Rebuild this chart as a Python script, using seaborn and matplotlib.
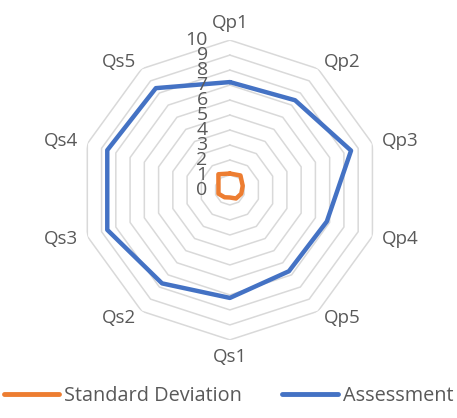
import numpy as np
import pandas as pd
import matplotlib
matplotlib.use('Agg')
import matplotlib.pyplot as plt
import seaborn as sns

# --- Data ---
categories = ['Qp1', 'Qp2', 'Qp3', 'Qp4', 'Qp5', 'Qs1', 'Qs2', 'Qs3', 'Qs4', 'Qs5']
std_dev = [1.1, 1.2, 0.9, 0.8, 0.7, 0.5, 0.6, 0.8, 0.8, 1.3]
assessment = [7.2, 7.4, 8.5, 6.8, 6.7, 7.2, 7.7, 8.6, 8.6, 8.4]
r_ticks = list(range(0, 11))

sns.set_theme(style='white')
plt.rcParams['font.family'] = ['Open Sans', 'DejaVu Sans']

n = len(categories)
angles = np.linspace(0, 2 * np.pi, n, endpoint=False)
ang_closed = np.append(angles, angles[0])

# long table, closed loops
rows = []
for name, vals in [('Standard Deviation', std_dev), ('Assessment', assessment)]:
    for i, a in enumerate(ang_closed):
        rows.append({'series': name, 'theta': a, 'value': vals[i % n], 'order': i})
df = pd.DataFrame(rows)

fig = plt.figure(figsize=(4.57, 4.18), dpi=100)
ax = fig.add_axes([0.175, 0.1866, 0.656, 0.7177], projection='polar')
ax.set_theta_zero_location('N')
ax.set_theta_direction(-1)
ax.set_ylim(0, 10)

# --- decagon grid ---
grid_color = '#D9D9D9'
for r in r_ticks[1:]:
    ax.plot(ang_closed, [r] * (n + 1), color=grid_color, lw=1.1, zorder=1)

palette = {'Standard Deviation': '#ED7D31', 'Assessment': '#4472C4'}
sns.lineplot(data=df, x='theta', y='value', hue='series', palette=palette,
             sort=False, estimator=None, units='series', lw=3.2, ax=ax,
             legend=False, zorder=3)

ax.grid(False)
ax.spines['polar'].set_visible(False)
ax.set_xticks([])
ax.set_yticks([])
ax.set_xlabel('')
ax.set_ylabel('')

text_color = '#595959'
# radial labels (stacked tightly, as in the original)
for r in r_ticks:
    ax.annotate(str(r), xy=(0, r), xytext=(-16, 0), textcoords='offset points',
                ha='right', va='center', fontsize=14, color=text_color)

# category labels
for a, lab in zip(angles, categories):
    s, c = np.sin(a), np.cos(a)
    ha = 'left' if s > 0.1 else ('right' if s < -0.1 else 'center')
    va = 'bottom' if c > 0.95 else ('top' if c < -0.95 else 'center')
    ax.annotate(lab, xy=(a, 10), xytext=(7 * s, 6 * c), textcoords='offset points',
                ha=ha, va=va, fontsize=13.5, color=text_color)

# --- legend ---
handles = [plt.Line2D([], [], color=palette[k], lw=3.5) for k in palette]
fig.legend(handles, list(palette.keys()), loc='lower center', ncol=2,
           bbox_to_anchor=(0.5, -0.015), frameon=False, fontsize=14.3,
           handlelength=2.8, handletextpad=0.25, columnspacing=2.0,
           labelcolor=text_color)

fig.savefig('out.png', dpi=100)
